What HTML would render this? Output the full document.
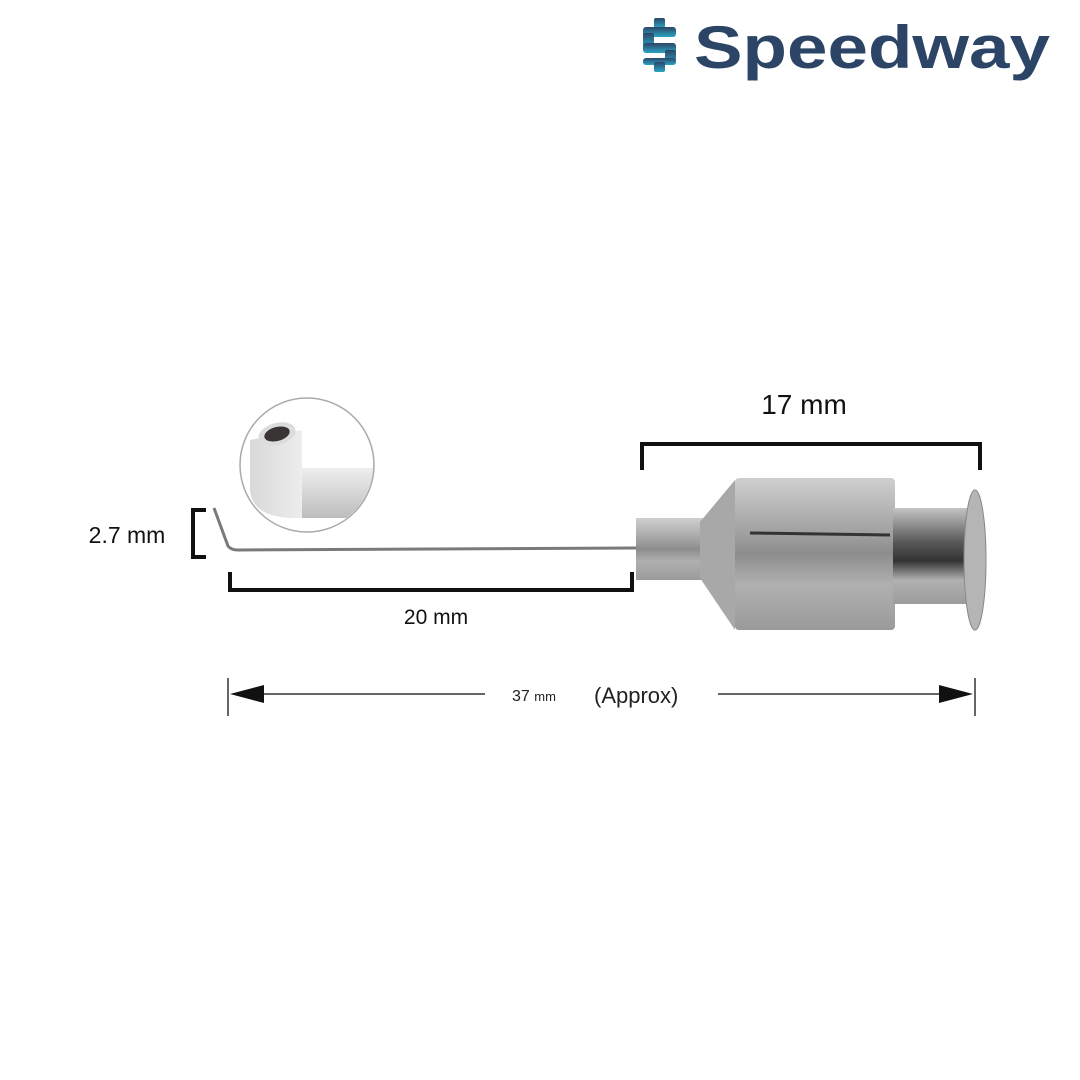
<!DOCTYPE html>
<html><head><style>
body{margin:0;background:#fff;}
svg{display:block}
text{font-family:"Liberation Sans",sans-serif;}
</style></head><body>
<svg width="1080" height="1080" viewBox="0 0 1080 1080">
<defs>
<linearGradient id="logo" x1="0" y1="0" x2="0" y2="1"><stop offset="0" stop-color="#2c4566"/><stop offset="1" stop-color="#2aa5c4"/></linearGradient>
<linearGradient id="metal" x1="0" y1="0" x2="0" y2="1"><stop offset="0" stop-color="#cfcfcf"/><stop offset="0.3" stop-color="#a9a9a9"/><stop offset="0.5" stop-color="#8d8d8d"/><stop offset="0.7" stop-color="#b0b0b0"/><stop offset="1" stop-color="#9a9a9a"/></linearGradient>
<linearGradient id="rear" x1="0" y1="0" x2="0" y2="1"><stop offset="0" stop-color="#c4c4c4"/><stop offset="0.35" stop-color="#5a5a5a"/><stop offset="0.55" stop-color="#333"/><stop offset="0.75" stop-color="#b0b0b0"/><stop offset="1" stop-color="#9c9c9c"/></linearGradient>
<linearGradient id="pipe" x1="0" y1="0" x2="1" y2="0"><stop offset="0" stop-color="#d8d8d8"/><stop offset="0.5" stop-color="#f2f2f2"/><stop offset="1" stop-color="#bdbdbd"/></linearGradient>
<linearGradient id="pipeh" x1="0" y1="0" x2="0" y2="1"><stop offset="0" stop-color="#efefef"/><stop offset="1" stop-color="#bdbdbd"/></linearGradient>
<clipPath id="cc"><circle cx="307" cy="465" r="66"/></clipPath>
</defs>
<!-- logo -->
<g fill="url(#logo)">
<rect x="654" y="18" width="11" height="10" rx="2"/>
<rect x="643" y="27" width="33" height="10" rx="3"/>
<rect x="643" y="33" width="11" height="14" rx="2"/>
<rect x="643" y="43" width="33" height="10" rx="3"/>
<rect x="665" y="50" width="11" height="14" rx="2"/>
<rect x="643" y="58" width="33" height="7" rx="3"/>
<rect x="654" y="62" width="11" height="10" rx="2"/>
</g>
<text x="694" y="68" font-size="60" font-weight="bold" fill="#2c4566" textLength="356" lengthAdjust="spacingAndGlyphs">Speedway</text>
<!-- inset circle -->
<circle cx="307" cy="465" r="67" fill="#fff" stroke="#aaa" stroke-width="1.5"/>
<g clip-path="url(#cc)">
<path d="M250 440 L250 490 Q252 516 290 518 L380 518 L380 468 L302 468 L302 430 Z" fill="url(#pipe)"/>
<rect x="302" y="468" width="80" height="50" fill="url(#pipeh)"/>
<ellipse cx="277" cy="434" rx="19" ry="11" transform="rotate(-15 277 434)" fill="#dcdcdc"/>
<ellipse cx="277" cy="434" rx="13" ry="7" transform="rotate(-15 277 434)" fill="#3a3535"/>
</g>
<!-- needle -->
<path d="M214 508 L228 546 Q231 550 238 550 L640 548" fill="none" stroke="#7a7a7a" stroke-width="3"/>
<!-- hub -->
<rect x="636" y="518" width="70" height="62" fill="url(#metal)"/>
<polygon points="700,522 735,480 735,630 700,578" fill="#a8a8a8"/>
<rect x="735" y="478" width="160" height="152" rx="4" fill="url(#metal)"/>
<line x1="750" y1="533" x2="890" y2="535" stroke="#333" stroke-width="3"/>
<rect x="893" y="508" width="80" height="96" fill="url(#rear)"/>
<ellipse cx="975" cy="560" rx="11" ry="70" fill="#b5b5b5" stroke="#888"/>
<!-- brackets -->
<g fill="none" stroke="#111" stroke-width="4">
<path d="M642 470 V444 H980 V470"/>
<path d="M230 572 V590 H632 V572"/>
<path d="M206 510 H193 V557 H206"/>
</g>
<text x="804" y="414" font-size="28" text-anchor="middle" fill="#111">17 mm</text>
<text x="436" y="624" font-size="21" text-anchor="middle" fill="#111">20 mm</text>
<text x="127" y="543" font-size="23" text-anchor="middle" fill="#111">2.7 mm</text>
<!-- 37 mm -->
<g stroke="#333" stroke-width="1.5">
<line x1="228" y1="678" x2="228" y2="716"/>
<line x1="975" y1="678" x2="975" y2="716"/>
<line x1="250" y1="694" x2="485" y2="694"/>
<line x1="718" y1="694" x2="950" y2="694"/>
</g>
<polygon points="230,694 264,685 264,703" fill="#111"/>
<polygon points="973,694 939,685 939,703" fill="#111"/>
<text x="512" y="701" font-size="16" fill="#222">37 <tspan font-size="13">mm</tspan></text>
<text x="594" y="703" font-size="22" fill="#222">(Approx)</text>
</svg>
</body></html>
